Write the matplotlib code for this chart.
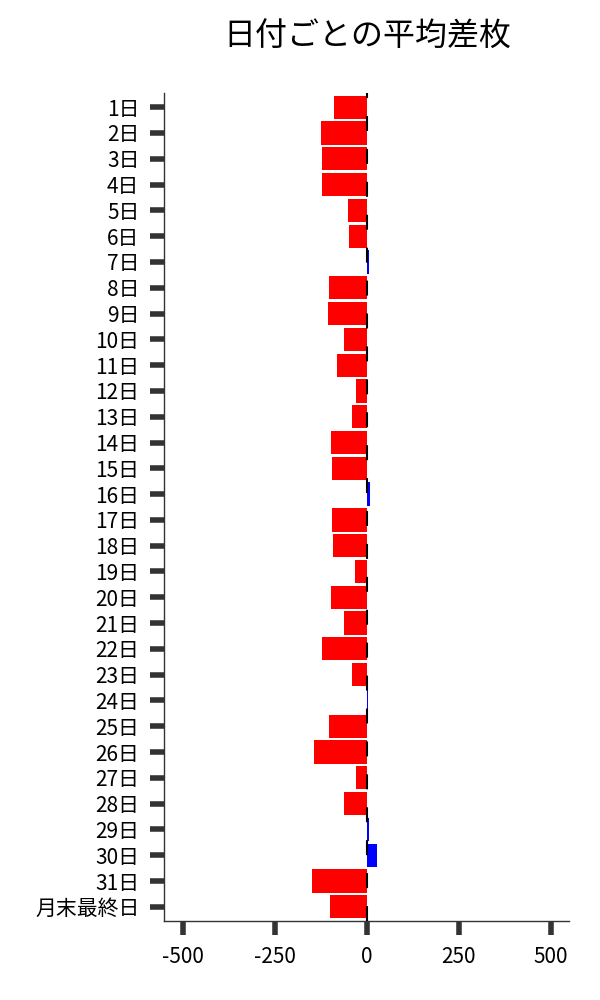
import matplotlib.pyplot as plt
import numpy as np

plt.rcParams['font.family'] = ['Noto Sans CJK JP', 'DejaVu Sans']
plt.rcParams['axes.unicode_minus'] = False

# day labels and mean difference per day
days = [f"{d}日" for d in range(1, 32)] + ["月末最終日"]
diffs = [-89, -125, -122, -122, -51, -49, 5, -103, -106, -62,
         -81, -30, -41, -98, -95, 8, -95, -92, -33, -98,
         -62, -122, -41, 3, -103, -144, -30, -62, 5, 27,
         -149, -100]

colors = ["red" if v < 0 else "blue" for v in diffs]
pos = np.arange(len(days))

fig = plt.figure(figsize=(6, 10), dpi=100)
ax = fig.add_axes([0.274, 0.079, 0.675, 0.828])

ax.barh(pos, diffs, height=0.9, color=colors, zorder=2)
ax.axvline(0, color="black", linewidth=1.5, linestyle=(0, (7.2, 8.6)), zorder=3)

ax.set_yticks(pos)
ax.set_yticklabels(days)
ax.set_ylim(len(days) - 0.45, -0.55)
ax.set_xlim(-550, 550)
ax.set_xticks([-500, -250, 0, 250, 500])

ax.tick_params(axis="both", length=10, width=4, color="#333333", pad=8, labelsize=15)
for side in ["top", "right"]:
    ax.spines[side].set_visible(False)
for side in ["left", "bottom"]:
    ax.spines[side].set_color("#333333")
    ax.spines[side].set_linewidth(1)

ax.set_title("日付ごとの平均差枚", fontsize=23, pad=34)

plt.savefig("out.png", dpi=100)
